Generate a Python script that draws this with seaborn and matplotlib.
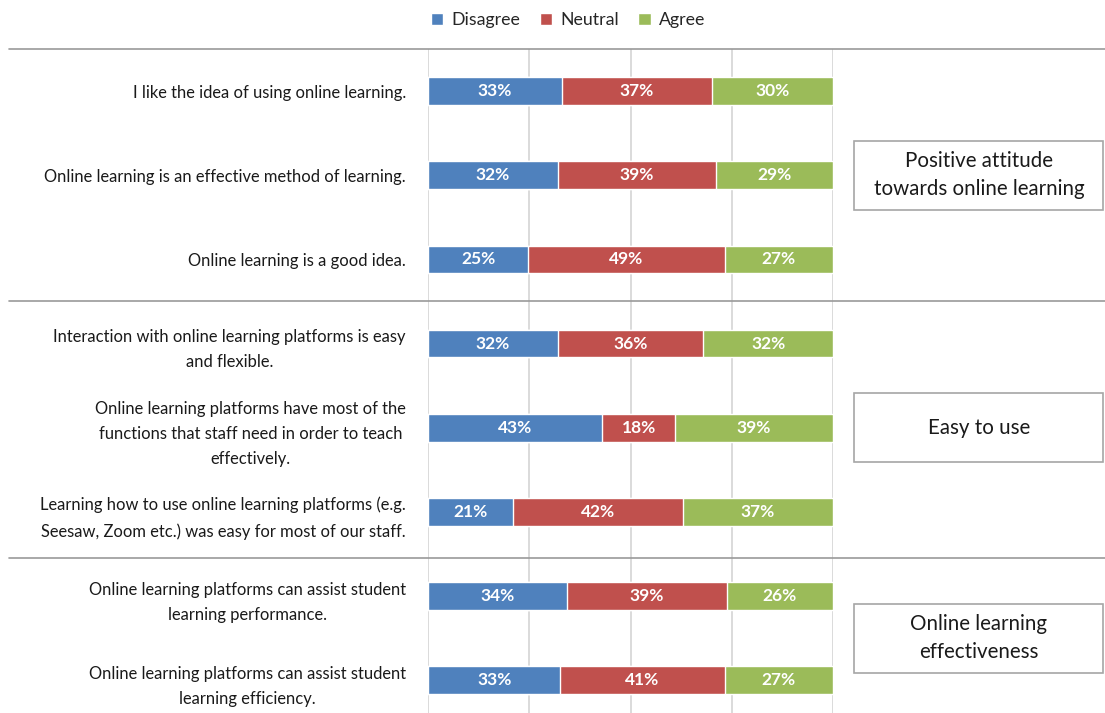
import numpy as np
import pandas as pd
import matplotlib.pyplot as plt
import matplotlib.transforms as mtransforms
from matplotlib.patches import Rectangle, Patch
import seaborn as sns

# ---- data ----
statements = [
    "I like the idea of using online learning.",
    "Online learning is an effective method of learning.",
    "Online learning is a good idea.",
    "Interaction with online learning platforms is easy\nand flexible.",
    "Online learning platforms have most of the\nfunctions that staff need in order to teach\neffectively.",
    "Learning how to use online learning platforms (e.g.\nSeesaw, Zoom etc.) was easy for most of our staff.",
    "Online learning platforms can assist student\nlearning performance.",
    "Online learning platforms can assist student\nlearning efficiency.",
]
disagree = [33, 32, 25, 32, 43, 21, 34, 33]
neutral = [37, 39, 49, 36, 18, 42, 39, 41]
agree = [30, 29, 27, 32, 39, 37, 26, 27]
responses = ["Disagree", "Neutral", "Agree"]
palette = ["#4F81BD", "#C0504D", "#9BBB59"]
groups = ["Positive attitude\ntowards online learning", "Easy to use",
          "Online learning\neffectiveness"]
group_first = [0, 3, 6]
group_last = [2, 5, 7]

sns.set_theme(style="white")
plt.rcParams["font.family"] = ["Lato", "DejaVu Sans"]

df = pd.DataFrame({"statement": statements, "Disagree": disagree,
                   "Neutral": neutral, "Agree": agree})
totals = df[responses].sum(axis=1)
share = df[responses].div(totals, axis=0) * 100
cum = share.cumsum(axis=1)

W, H = 1105, 713
fig = plt.figure(figsize=(W / 100, H / 100), dpi=100)
ax = fig.add_axes([428 / W, 0, 405 / W, 1 - 49 / H])

# stacked bars: draw cumulative totals from the back to the front
for resp, col in reversed(list(zip(responses, palette))):
    sns.barplot(x=cum[resp], y=df["statement"], orient="h", color=col,
                width=0.33, saturation=1, ax=ax, zorder=3)

for i in range(len(df)):
    left = 0
    for resp in responses:
        w = share.loc[i, resp]
        ax.text(left + w / 2, i, f"{df.loc[i, resp]}%", ha="center", va="center",
                color="white", fontsize=12.5, fontweight="bold", zorder=4)
        left += w

ax.set_xlim(0, 100)
ax.set_ylim(7.39, -0.5)
ax.set_xticks([0, 25, 50, 75, 100])
ax.xaxis.grid(True, color="#d4d4d4", linewidth=1.2, zorder=0)
ax.set_axisbelow(True)
ax.tick_params(axis="x", labelbottom=False, length=0)
ax.tick_params(axis="y", length=0, pad=16, labelsize=11.9, labelcolor="#1a1a1a")
for t in ax.get_yticklabels():
    t.set_multialignment("center")
    t.set_linespacing(1.72)
ax.set_xlabel("")
ax.set_ylabel("")
sns.despine(ax=ax, left=True, bottom=True, top=True, right=True)

# group separators spanning the whole width
trans = mtransforms.blended_transform_factory(fig.transFigure, ax.transData)
for y in [-0.5, 2.5, 5.55]:
    ax.plot([9 / W, 1], [y, y], color="#9a9a9a", linewidth=1.2,
            transform=trans, clip_on=False, zorder=5)

# group boxes on the right
for name, a, b in zip(groups, group_first, group_last):
    yc = (a + b) / 2
    ax.add_patch(Rectangle((854 / W, yc - 0.41), 249 / W, 0.82, transform=trans,
                           facecolor="white", edgecolor="#a6a6a6", linewidth=1.2,
                           clip_on=False, zorder=5))
    ax.text(979 / W, yc, name, transform=trans, ha="center", va="center",
            fontsize=14.8, color="#1a1a1a", linespacing=1.5, zorder=6)

handles = [Patch(facecolor=c, label=r) for r, c in zip(responses, palette)]
fig.legend(handles=handles, loc="center", bbox_to_anchor=(568 / W, 1 - 20 / H),
           ncol=3, frameon=False, fontsize=12.8, handlelength=0.7, handleheight=0.7,
           handletextpad=0.45, columnspacing=1.1)

fig.savefig("out.png", dpi=100, facecolor="white")
